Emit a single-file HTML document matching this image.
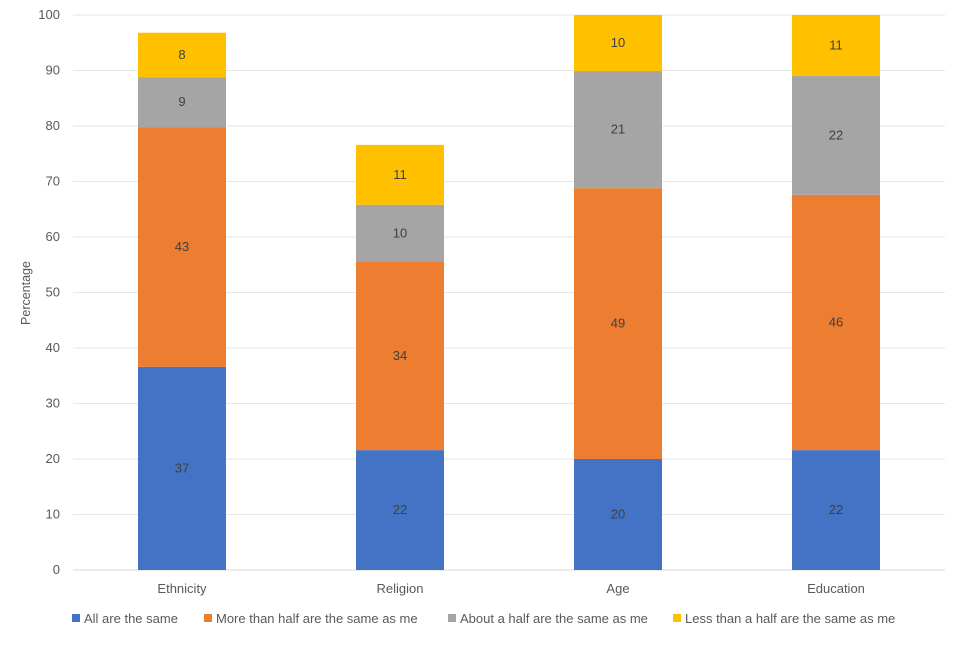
<!DOCTYPE html>
<html><head><meta charset="utf-8"><style>
body{margin:0;background:#fff;}
svg text{font-family:"Liberation Sans",sans-serif;fill:#595959;}
</style></head><body>
<svg id="chart" width="960" height="640" xmlns="http://www.w3.org/2000/svg">
<rect width="960" height="640" fill="#fff"/>
<g id="grid"></g>
<g id="bars"></g>
<g id="axes"></g>
<text transform="translate(30,293) rotate(-90)" text-anchor="middle" font-size="12.5">Percentage</text>
<g id="legend"></g>
</svg>
<script>
const categories=["Ethnicity","Religion","Age","Education"];
const seriesNames=["All are the same","More than half are the same as me","About a half are the same as me","Less than a half are the same as me"];
const allSame=[36.6,21.6,20.0,21.6];
const moreHalf=[43.2,33.9,48.8,46.0];
const aboutHalf=[9.0,10.3,21.1,21.4];
const lessHalf=[8.0,10.8,10.1,11.0];
const labelsAll=["37","22","20","22"];
const labelsMore=["43","34","49","46"];
const labelsAbout=["9","10","21","22"];
const labelsLess=["8","11","10","11"];
const yTicks=[0,10,20,30,40,50,60,70,80,90,100];
const colors=["#4472c4","#ed7d31","#a5a5a5","#ffc000"];
const NS="http://www.w3.org/2000/svg";
const x0=73,x1=945,yBase=570,yTop=15;
const y=v=>yBase-(v/100)*(yBase-yTop);
const band=(x1-x0)/categories.length;
const xc=i=>x0+band*(i+0.5);
const bw=88;
function mk(t,a,p){const e=document.createElementNS(NS,t);for(const k in a)e.setAttribute(k,a[k]);p.appendChild(e);return e;}
const grid=document.getElementById('grid'),axes=document.getElementById('axes'),bars=document.getElementById('bars'),legend=document.getElementById('legend');
yTicks.forEach(t=>{
 const l=mk('line',{x1:x0,x2:x1,y1:y(t),y2:y(t),stroke:t===0?'#d9d9d9':'#e6e6e6','stroke-width':1},grid);
 
 
 const tx=mk('text',{x:60,y:y(t)+4,'text-anchor':'end','font-size':13},axes);
 tx.textContent=t;
 
 
});
const series=[allSame,moreHalf,aboutHalf,lessHalf];
const labs=[labelsAll,labelsMore,labelsAbout,labelsLess];
categories.forEach((c,i)=>{
 let cum=0;
 series.forEach((s,j)=>{
  const v=s[i];
  const r=mk('rect',{x:xc(i)-bw/2,y:y(cum+v),width:bw,height:y(cum)-y(cum+v),fill:colors[j]},bars);
  
  
  const t=mk('text',{x:xc(i),y:(y(cum)+y(cum+v))/2+4,'text-anchor':'middle','font-size':13,style:'fill:#404040'},bars);
  t.textContent=labs[j][i];
  
  
  cum+=v;
 });
 const ct=mk('text',{x:xc(i),y:593,'text-anchor':'middle','font-size':13},axes);
 ct.textContent=c;
 
 
});
const lx=[72,204,448,673];
seriesNames.forEach((n,j)=>{
 const g=mk('g',{},legend);
 
 
 mk('rect',{x:lx[j],y:614,width:8,height:8,fill:colors[j]},g);
 const t=mk('text',{x:lx[j]+12,y:623,'font-size':13},g);
 t.textContent=n;
});
</script>
</body></html>
